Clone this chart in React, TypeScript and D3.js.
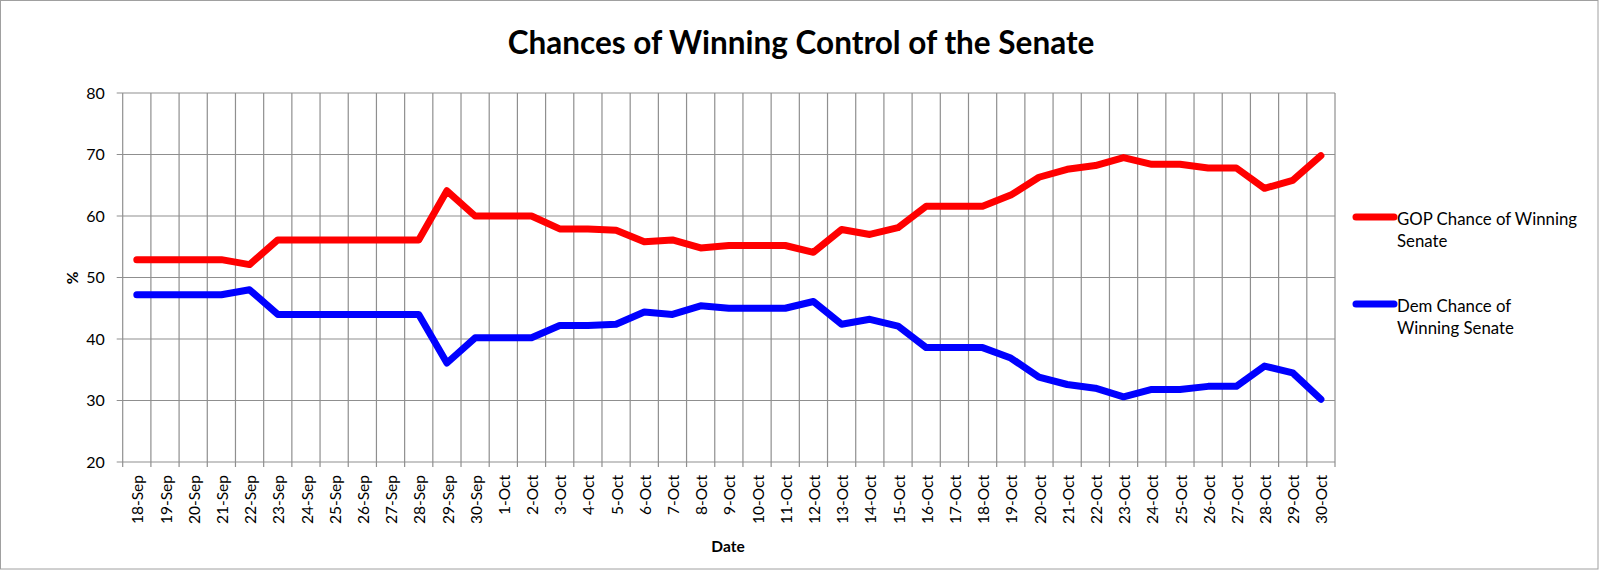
import * as d3 from "d3";
import React from "react";

const dates = [
  "18-Sep", "19-Sep", "20-Sep", "21-Sep", "22-Sep", "23-Sep", "24-Sep", "25-Sep", "26-Sep",
  "27-Sep", "28-Sep", "29-Sep", "30-Sep", "1-Oct", "2-Oct", "3-Oct", "4-Oct", "5-Oct",
  "6-Oct", "7-Oct", "8-Oct", "9-Oct", "10-Oct", "11-Oct", "12-Oct", "13-Oct", "14-Oct",
  "15-Oct", "16-Oct", "17-Oct", "18-Oct", "19-Oct", "20-Oct", "21-Oct", "22-Oct", "23-Oct",
  "24-Oct", "25-Oct", "26-Oct", "27-Oct", "28-Oct", "29-Oct", "30-Oct",
];

const gop = [
  52.9, 52.9, 52.9, 52.9, 52.1, 56.1, 56.1, 56.1, 56.1, 56.1, 56.1, 64.1, 60.0,
  60.0, 60.0, 57.9, 57.9, 57.7, 55.8, 56.1, 54.8, 55.2, 55.2, 55.2, 54.1, 57.8, 57.0, 58.1,
  61.6, 61.6, 61.6, 63.4, 66.3, 67.6, 68.2, 69.5, 68.4, 68.4, 67.8, 67.8, 64.5, 65.8, 69.8,
];

const dem = [
  47.2, 47.2, 47.2, 47.2, 48.0, 44.0, 44.0, 44.0, 44.0, 44.0, 44.0, 36.1, 40.2,
  40.2, 40.2, 42.2, 42.2, 42.4, 44.4, 44.0, 45.4, 45.0, 45.0, 45.0, 46.1, 42.4, 43.2, 42.1,
  38.6, 38.6, 38.6, 36.9, 33.8, 32.6, 32.0, 30.6, 31.8, 31.8, 32.3, 32.3, 35.6, 34.5, 30.2,
];

const yTicks = [20, 30, 40, 50, 60, 70, 80];

const series = [
  { label: ["GOP Chance of Winning", "Senate"], values: gop, color: "#ff0000" },
  { label: ["Dem Chance of", "Winning Senate"], values: dem, color: "#0000ff" },
];

const W = 1600;
const H = 572;
const m = { top: 93, right: 265, bottom: 110, left: 122.7 };
const FONT = "Lato, 'Open Sans', sans-serif";
const GRID = "#8f8f8f";

export default function App() {
  const x = d3.scaleBand<string>().domain(dates).range([m.left, W - m.right]).padding(0);
  const y = d3.scaleLinear().domain([20, 80]).range([H - m.bottom, m.top]);
  const cx = (d: string) => (x(d) ?? 0) + x.bandwidth() / 2;
  const line = d3
    .line<number>()
    .x((_, i) => cx(dates[i]))
    .y((v) => y(v));

  const bounds = [...dates.map((d) => x(d) ?? 0), W - m.right];
  const y0 = y(20);

  return (
    <svg
      width={W}
      height={H}
      style={{ position: "absolute", left: 0, top: 0, background: "#fff" }}
      fontFamily={FONT}
    >
      <rect x={0.5} y={0.5} width={W - 2.5} height={H - 3.5} fill="#fff" stroke="#a0a0a0" />

      <text x={801} y={54} textAnchor="middle" fontSize={31.5} fontWeight="bold" fill="#000">
        Chances of Winning Control of the Senate
      </text>

      {/* horizontal grid + y labels */}
      {yTicks.map((t) => (
        <g key={t}>
          <line x1={m.left - 6} x2={W - m.right} y1={y(t)} y2={y(t)} stroke={GRID} strokeWidth={1.2} />
          <text x={m.left - 18} y={y(t)} dy="0.36em" textAnchor="end" fontSize={16} fill="#000">
            {t}
          </text>
        </g>
      ))}

      {/* vertical grid + ticks */}
      {bounds.map((b, i) => (
        <line key={i} x1={b} x2={b} y1={m.top} y2={y0 + 5} stroke={GRID} strokeWidth={1.2} />
      ))}

      {/* x labels */}
      {dates.map((d) => (
        <text
          key={d}
          transform={`translate(${cx(d) + 1},${y0 + 13}) rotate(-90)`}
          textAnchor="end"
          dy="0.36em"
          fontSize={15.5}
          fill="#000"
        >
          {d}
        </text>
      ))}

      <text x={728} y={552} textAnchor="middle" fontSize={15.5} fontWeight="bold" fill="#000">
        Date
      </text>
      <text
        transform={`translate(72,278) rotate(-90)`}
        textAnchor="middle"
        dy="0.36em"
        fontSize={15.5}
        fontWeight="bold"
        fill="#000"
      >
        %
      </text>

      {/* series */}
      {series.map((s) => (
        <path
          key={s.color}
          d={line(s.values) ?? undefined}
          fill="none"
          stroke={s.color}
          strokeWidth={7}
          strokeLinejoin="round"
          strokeLinecap="round"
        />
      ))}

      {/* legend */}
      {series.map((s, i) => {
        const ly = i === 0 ? 217 : 304;
        return (
          <g key={s.color}>
            <line x1={1356} x2={1394} y1={ly} y2={ly} stroke={s.color} strokeWidth={7} strokeLinecap="round" />
            {s.label.map((l, j) => (
              <text key={j} x={1397} y={ly + 8 + j * 21.5} fontSize={16.8} fill="#000">
                {l}
              </text>
            ))}
          </g>
        );
      })}
    </svg>
  );
}
